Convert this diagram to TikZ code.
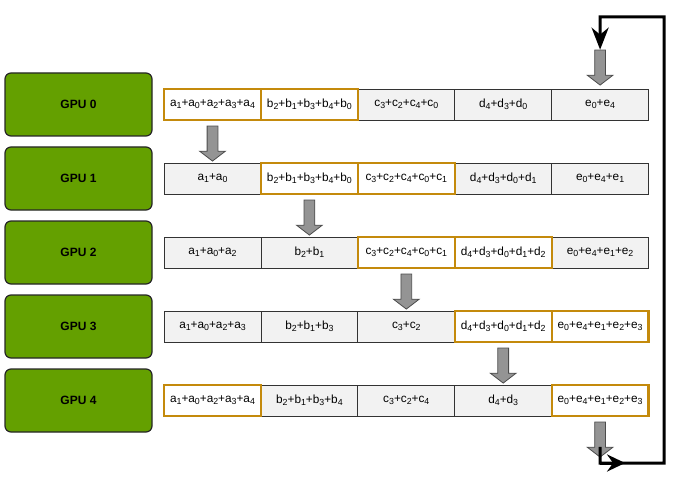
\documentclass[tikz,border=0pt]{standalone}
\usepackage{fontspec}
\setmainfont{Liberation Sans}
\usetikzlibrary{shapes.arrows,arrows.meta}

\definecolor{gpugreen}{HTML}{64A000}
\definecolor{hlorange}{HTML}{C48A0C}
\definecolor{cellgray}{HTML}{F2F2F2}
\newcommand{\ix}[2]{#1\raisebox{-0.3ex}{\fontsize{8.8}{9}\selectfont #2}}

\tikzset{
    gpu/.style={draw=black!85, line width=1.2pt, fill=gpugreen, rounded corners=6pt,
        minimum width=147pt, minimum height=63pt, font=\bfseries\fontsize{12}{14}\selectfont},
    cell/.style={draw=black!80, line width=0.8pt, fill=cellgray, minimum width=96.9pt,
        minimum height=31pt, inner sep=0pt, font=\fontsize{11.8}{14}\selectfont},
    hl/.style={cell, draw=hlorange, fill=white, line width=2.2pt},
    blockarr/.style={single arrow, draw=black!70, fill=black!42, line width=0.8pt,
        shape border rotate=270, minimum height=35pt, inner sep=5pt,
        single arrow tip angle=105, single arrow head extend=7.5pt},
    loopline/.style={line width=3pt, black}
}

\begin{document}
\begin{tikzpicture}[x=1pt, y=-1pt]
    \useasboundingbox (0,0) rectangle (676,478);

    % GPU boxes
    \foreach \i in {0,...,4}
        \node[gpu] (gpu\i) at (78.5, 104.5+74*\i) {GPU \i};

    % row 0
    \node[cell] (r0c2) at (406.3,104.5) {\ix{c}{3}+\ix{c}{2}+\ix{c}{4}+\ix{c}{0}};
    \node[cell] (r0c3) at (503.2,104.5) {\ix{d}{4}+\ix{d}{3}+\ix{d}{0}};
    \node[cell] (r0c4) at (600.1,104.5) {\ix{e}{0}+\ix{e}{4}};
    \node[hl] (r0c0) at (212.5,104.5) {\ix{a}{1}+\ix{a}{0}+\ix{a}{2}+\ix{a}{3}+\ix{a}{4}};
    \node[hl] (r0c1) at (309.4,104.5) {\ix{b}{2}+\ix{b}{1}+\ix{b}{3}+\ix{b}{4}+\ix{b}{0}};

    % row 1
    \node[cell] (r1c0) at (212.5,178.5) {\ix{a}{1}+\ix{a}{0}};
    \node[cell] (r1c3) at (503.2,178.5) {\ix{d}{4}+\ix{d}{3}+\ix{d}{0}+\ix{d}{1}};
    \node[cell] (r1c4) at (600.1,178.5) {\ix{e}{0}+\ix{e}{4}+\ix{e}{1}};
    \node[hl] (r1c1) at (309.4,178.5) {\ix{b}{2}+\ix{b}{1}+\ix{b}{3}+\ix{b}{4}+\ix{b}{0}};
    \node[hl] (r1c2) at (406.3,178.5) {\ix{c}{3}+\ix{c}{2}+\ix{c}{4}+\ix{c}{0}+\ix{c}{1}};

    % row 2
    \node[cell] (r2c0) at (212.5,252.5) {\ix{a}{1}+\ix{a}{0}+\ix{a}{2}};
    \node[cell] (r2c1) at (309.4,252.5) {\ix{b}{2}+\ix{b}{1}};
    \node[cell] (r2c4) at (600.1,252.5) {\ix{e}{0}+\ix{e}{4}+\ix{e}{1}+\ix{e}{2}};
    \node[hl] (r2c2) at (406.3,252.5) {\ix{c}{3}+\ix{c}{2}+\ix{c}{4}+\ix{c}{0}+\ix{c}{1}};
    \node[hl] (r2c3) at (503.2,252.5) {\ix{d}{4}+\ix{d}{3}+\ix{d}{0}+\ix{d}{1}+\ix{d}{2}};

    % row 3
    \node[cell] (r3c0) at (212.5,326.5) {\ix{a}{1}+\ix{a}{0}+\ix{a}{2}+\ix{a}{3}};
    \node[cell] (r3c1) at (309.4,326.5) {\ix{b}{2}+\ix{b}{1}+\ix{b}{3}};
    \node[cell] (r3c2) at (406.3,326.5) {\ix{c}{3}+\ix{c}{2}};
    \node[hl] (r3c3) at (503.2,326.5) {\ix{d}{4}+\ix{d}{3}+\ix{d}{0}+\ix{d}{1}+\ix{d}{2}};
    \node[hl] (r3c4) at (600.1,326.5) {\ix{e}{0}+\ix{e}{4}+\ix{e}{1}+\ix{e}{2}+\ix{e}{3}};

    % row 4
    \node[cell] (r4c1) at (309.4,400.5) {\ix{b}{2}+\ix{b}{1}+\ix{b}{3}+\ix{b}{4}};
    \node[cell] (r4c2) at (406.3,400.5) {\ix{c}{3}+\ix{c}{2}+\ix{c}{4}};
    \node[cell] (r4c3) at (503.2,400.5) {\ix{d}{4}+\ix{d}{3}};
    \node[hl] (r4c0) at (212.5,400.5) {\ix{a}{1}+\ix{a}{0}+\ix{a}{2}+\ix{a}{3}+\ix{a}{4}};
    \node[hl] (r4c4) at (600.1,400.5) {\ix{e}{0}+\ix{e}{4}+\ix{e}{1}+\ix{e}{2}+\ix{e}{3}};

    % block arrows, one step to the right per row
    \node[blockarr] (atop) at (600.1,65.5) {};
    \foreach \i in {0,...,4}
        \node[blockarr] (a\i) at (212.5+96.9*\i, 141.5+74*\i) {};

    % ring back to the top
    \coordinate (lb) at (598,463);
    \coordinate (rb) at (664,463);
    \coordinate (rt) at (664,17);
    \coordinate (lt) at (a4.tip |- rt);
    \draw[loopline, -{Stealth[length=22pt, width=17pt, inset=7pt]}]
        (a4.tip |- a4.before tip) -- (a4.tip |- lb) -- (rb) -- (rt) -- (lt) -- (atop.tail);
    \draw[loopline, -{Stealth[length=18pt, width=17pt, inset=6pt]}] (a4.tip |- lb) -- ++(25,0);

\end{tikzpicture}
\end{document}
